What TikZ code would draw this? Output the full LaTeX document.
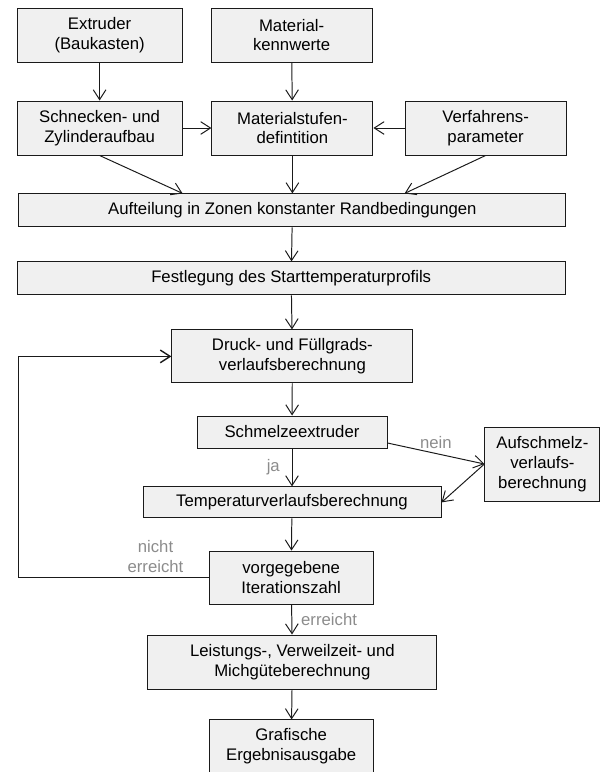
\documentclass[tikz,border=0pt]{standalone}
\usepackage{fontspec}
\setmainfont{Liberation Sans}
\usetikzlibrary{arrows.meta}
\definecolor{FlowFill}{HTML}{F0F0F0}
\definecolor{FlowLine}{HTML}{1A1A1A}
\definecolor{FlowLabel}{HTML}{8C8C8C}

\begin{document}
\begin{tikzpicture}[x=1cm,y=1cm,>={Straight Barb[length=7pt,width=9pt]},
  box/.style={draw=FlowLine,fill=FlowFill,line width=0.7pt,align=center,inner sep=1pt,
    font=\fontsize{11.9}{14}\selectfont},
  flow/.style={->,line width=0.7pt,color=FlowLine},
  lbl/.style={font=\fontsize{11.9}{14}\selectfont,text=FlowLabel}]
  \useasboundingbox (0,0) rectangle (15.075,-19.3);
  \node[box,minimum width=4.125cm,minimum height=1.35cm] (extruder) at (2.49,-0.875)
    {Extruder\\(Baukasten)};
  \node[box,minimum width=4.025cm,minimum height=1.35cm] (kennwerte) at (7.29,-0.875)
    {Material-\\kennwerte};
  \node[box,minimum width=4.125cm,minimum height=1.35cm] (aufbau) at (2.49,-3.2)
    {Schnecken- und\\Zylinderaufbau};
  \node[box,minimum width=4.025cm,minimum height=1.35cm] (stufen) at (7.31,-3.2)
    {Materialstufen-\\defintition};
  \node[box,minimum width=4.025cm,minimum height=1.35cm] (verfahren) at (12.14,-3.2)
    {Verfahrens-\\parameter};
  \node[box,minimum width=13.675cm,minimum height=0.825cm] (zonen) at (7.31,-5.26)
    {Aufteilung in Zonen konstanter Randbedingungen};
  \node[box,minimum width=13.7cm,minimum height=0.825cm] (start) at (7.28,-6.96)
    {Festlegung des Starttemperaturprofils};
  \node[box,minimum width=6.025cm,minimum height=1.325cm] (druck) at (7.31,-8.91)
    {Druck- und F\"ullgrads-\\verlaufsberechnung};
  \node[box,minimum width=4.75cm,minimum height=0.8cm] (schmelze) at (7.3,-10.8)
    {Schmelzeextruder};
  \node[box,minimum width=2.875cm,minimum height=1.85cm] (aufschmelz) at (13.56,-11.6)
    {Aufschmelz-\\verlaufs-\\berechnung};
  \node[box,minimum width=7.45cm,minimum height=0.775cm] (temperatur) at (7.3,-12.56)
    {Temperaturverlaufsberechnung};
  \node[box,minimum width=4.1cm,minimum height=1.325cm] (iter) at (7.28,-14.44)
    {vorgegebene\\Iterationszahl};
  \node[box,minimum width=7.225cm,minimum height=1.35cm] (leistung) at (7.31,-16.55)
    {Leistungs-, Verweilzeit- und\\Michg\"uteberechnung};
  \node[box,minimum width=4.1cm,minimum height=1.325cm] (ausgabe) at (7.28,-18.66)
    {Grafische\\Ergebnisausgabe};
  \draw[flow] (extruder)--(aufbau);
  \draw[flow] (kennwerte)--(stufen);
  \draw[flow] (aufbau)--(stufen);
  \draw[flow] (verfahren)--(stufen);
  \draw[flow] (aufbau.south)--(zonen.north -| aufbau.east);
  \draw[flow] (stufen)--(zonen);
  \draw[flow] (verfahren.south)--(zonen.north -| verfahren.west);
  \draw[flow] (zonen)--(start);
  \draw[flow] (start)--(druck);
  \draw[flow] (druck)--(schmelze);
  \draw[flow] (schmelze)--node[lbl,left=5pt]{ja}(temperatur);
  \draw[flow] ([yshift=-0.275cm]schmelze.east)--node[lbl,above]{nein}(aufschmelz.west);
  \draw[flow] (aufschmelz.west)--(temperatur.east);
  \draw[flow] (temperatur)--(iter);
  \draw[flow,line width=1pt] (iter.west)--node[lbl,above,pos=0.28,align=center]{nicht\\erreicht}
    ++(-4.75,0) |- (druck.west);
  \draw[flow] (iter)--node[lbl,right=3pt]{erreicht}(leistung);
  \draw[flow] (leistung)--(ausgabe);
\end{tikzpicture}
\end{document}
